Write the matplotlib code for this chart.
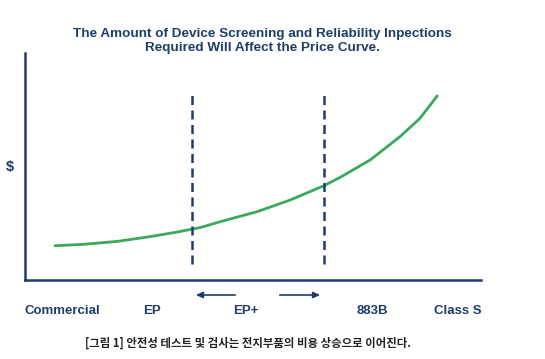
import matplotlib
matplotlib.use("Agg")
import matplotlib.pyplot as plt
from matplotlib.patches import FancyArrowPatch

# Data
curve_x = [0.66, 1.27, 2.02, 2.74, 3.33, 3.84, 4.34, 5.09, 5.81, 6.54, 6.91, 7.57, 8.22, 8.66, 9.04]
curve_y = [1.51, 1.57, 1.70, 1.91, 2.11, 2.31, 2.60, 3.01, 3.52, 4.14, 4.52, 5.29, 6.31, 7.12, 8.11]
boundary_x = [3.66, 6.56]
boundary_y = [0.70, 8.15]
categories = ["Commercial", "EP", "EP+", "883B", "Class S"]
category_pos = [0.83, 2.79, 4.85, 7.61, 9.50]
title = "The Amount of Device Screening and Reliability Inpections\nRequired Will Affect the Price Curve."
caption = "[그림 1] 안전성 테스트 및 검사는 전지부품의 비용 상승으로 이어진다."

navy = "#1f3d6b"
green = "#3aa95a"

plt.rcParams['font.family'] = ['Liberation Sans', 'DejaVu Sans']

W, H = 545, 359
fig = plt.figure(figsize=(W/100, H/100), dpi=100)
ax = fig.add_axes([25/W, 1-280/H, 456/W, 227/H])
ax.set_xlim(0, 10)
ax.set_ylim(0, 10)

ax.plot(curve_x, curve_y, color=green, lw=2.0, solid_capstyle='round', solid_joinstyle='round')
for bx in boundary_x:
    ax.plot([bx, bx], boundary_y, color=navy, lw=1.8, dashes=(3.6, 2.2))

for s in ['top', 'right']:
    ax.spines[s].set_visible(False)
for s in ['left', 'bottom']:
    ax.spines[s].set_color(navy)
    ax.spines[s].set_linewidth(1.8)

ax.set_yticks([])
ax.set_xticks(category_pos)
ax.set_xticklabels(categories, fontsize=9.5, fontweight='bold', color=navy)
ax.tick_params(axis='x', length=0, pad=18)

fig.text(10/W, 1-167/H, "$", fontsize=10.5, fontweight='bold', color=navy, ha='center', va='center')
fig.text(262/W, 1-41/H, title, fontsize=9.7, fontweight='bold', color=navy, ha='center', va='center', linespacing=1.2)

# arrows
for start, end in [((238, 295), (193, 295)), ((277, 295), (323, 295))]:
    fig.add_artist(FancyArrowPatch((start[0]/W, 1-start[1]/H), (end[0]/W, 1-end[1]/H), transform=fig.transFigure,
                                   arrowstyle='-|>,head_length=4,head_width=1.8', color=navy, lw=1.2))

fig.text(248/W, 1-343/H, caption, fontsize=8.2, fontweight='bold', color='#222222', ha='center', va='center',
         family=['Noto Sans CJK KR', 'DejaVu Sans'])

fig.savefig("out.png", dpi=100)
